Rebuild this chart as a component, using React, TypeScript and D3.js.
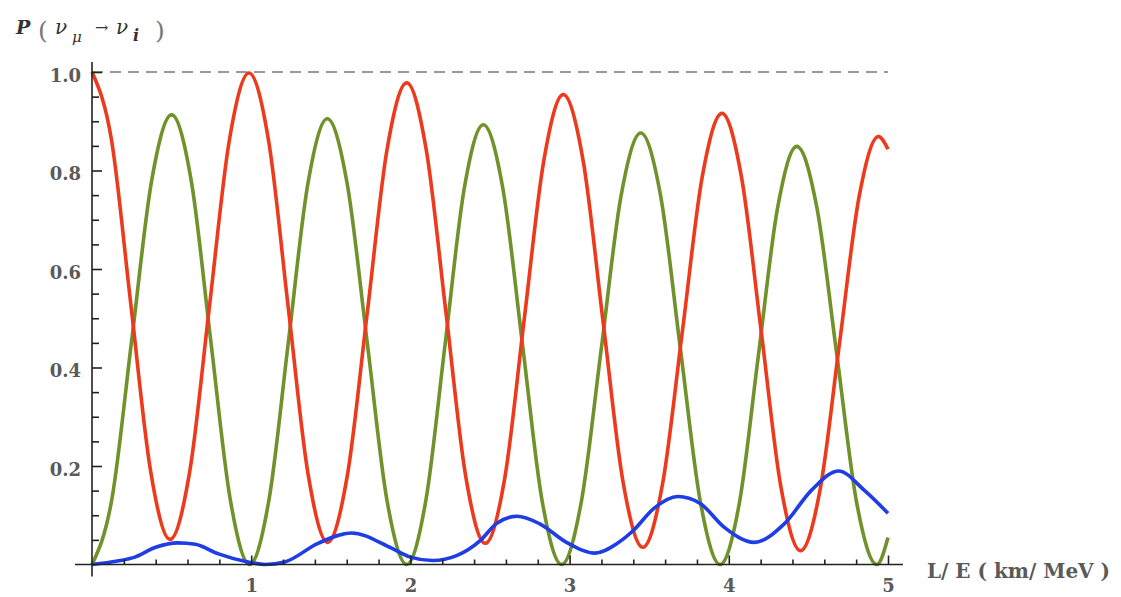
import { useEffect, useRef } from 'react';
import * as d3 from 'd3';

// L/E (km/MeV) sample positions and read-off probabilities
const muMuL = [
  0, 0.123, 0.245, 0.368, 0.49, 0.614, 0.738, 0.862, 0.986, 1.11, 1.233, 1.357, 1.48,
  1.604, 1.729, 1.853, 1.977, 2.1, 2.224, 2.347, 2.47, 2.593, 2.715, 2.838, 2.96, 3.085,
  3.21, 3.335, 3.46, 3.584, 3.709, 3.833, 3.957, 4.08, 4.204, 4.327, 4.45, 4.573, 4.695,
  4.818, 4.94, 5.0,
];
const muMuP = [
  1.0, 0.861, 0.525, 0.19, 0.051, 0.189, 0.525, 0.86, 0.998, 0.859, 0.521, 0.184, 0.045,
  0.181, 0.511, 0.842, 0.978, 0.841, 0.51, 0.18, 0.043, 0.176, 0.498, 0.82, 0.954, 0.82,
  0.494, 0.169, 0.035, 0.164, 0.475, 0.787, 0.916, 0.786, 0.472, 0.158, 0.028, 0.151, 0.448,
  0.746, 0.869, 0.843,
];

const muTauL = [
  0, 0.125, 0.25, 0.375, 0.5, 0.623, 0.745, 0.868, 0.99, 1.112, 1.234, 1.356, 1.478,
  1.603, 1.728, 1.852, 1.977, 2.097, 2.218, 2.338, 2.458, 2.581, 2.704, 2.827, 2.95, 3.074,
  3.199, 3.323, 3.447, 3.572, 3.696, 3.821, 3.945, 4.066, 4.186, 4.307, 4.427, 4.553, 4.679,
  4.804, 4.93, 5.0,
];
const muTauP = [
  0, 0.133, 0.457, 0.78, 0.913, 0.78, 0.457, 0.133, 0, 0.132, 0.453, 0.773, 0.905,
  0.773, 0.453, 0.132, 0, 0.13, 0.447, 0.763, 0.893, 0.763, 0.447, 0.13, 0, 0.128,
  0.438, 0.748, 0.876, 0.748, 0.438, 0.128, 0, 0.124, 0.425, 0.725, 0.849, 0.725, 0.425,
  0.124, 0, 0.055,
];

const muEL = [
  0, 0.16, 0.27, 0.4, 0.54, 0.65, 0.79, 0.98, 1.09, 1.21, 1.42, 1.63, 1.87, 2.0, 2.14,
  2.29, 2.44, 2.54, 2.67, 2.81, 2.98, 3.16, 3.3, 3.4, 3.53, 3.68, 3.82, 3.97, 4.16, 4.35,
  4.52, 4.69, 4.85, 5.0,
];
const muEP = [
  0, 0.007, 0.015, 0.035, 0.044, 0.041, 0.022, 0.005, 0.0, 0.005, 0.043, 0.064, 0.035,
  0.015, 0.008, 0.018, 0.049, 0.083, 0.098, 0.083, 0.045, 0.023, 0.043, 0.069, 0.114,
  0.138, 0.124, 0.076, 0.045, 0.083, 0.151, 0.19, 0.151, 0.104,
];

const xMajor = [1, 2, 3, 4, 5];
const xMinor = d3.range(1, 25).map((i) => i * 0.2).filter((v) => Math.abs(v - Math.round(v)) > 1e-6);
const yMajor = [0.2, 0.4, 0.6, 0.8, 1.0];
const yMinor = d3.range(1, 20).map((i) => i * 0.05).filter((v) => Math.abs(v * 5 - Math.round(v * 5)) > 1e-6);

const series = [
  { name: 'mu-tau', xs: muTauL, ys: muTauP, color: '#6f922a' },
  { name: 'mu-mu', xs: muMuL, ys: muMuP, color: '#ee3a1c' },
  { name: 'mu-e', xs: muEL, ys: muEP, color: '#1f3de4' },
];

const FONT = '"DejaVu Serif", serif';

export default function App() {
  const svgRef = useRef<SVGSVGElement>(null);

  useEffect(() => {
    if (!svgRef.current) return;
    const svg = d3.select(svgRef.current);
    svg.selectAll('*').remove();

    const x = d3.scaleLinear().domain([0, 5]).range([92, 888]);
    const y = d3.scaleLinear().domain([0, 1]).range([564.5, 72]);

    // dashed reference at P = 1
    svg.append('line')
      .attr('x1', x(0)).attr('x2', x(5))
      .attr('y1', y(1)).attr('y2', y(1))
      .attr('stroke', '#9a9a9a')
      .attr('stroke-width', 1.8)
      .attr('stroke-dasharray', '11,7');

    // curves
    const line = d3.line<[number, number]>()
      .x((d) => x(d[0]))
      .y((d) => y(d[1]))
      .curve(d3.curveMonotoneX);

    series.forEach((s) => {
      const pts = s.xs.map((v, i) => [v, s.ys[i]] as [number, number]);
      svg.append('path')
        .datum(pts)
        .attr('fill', 'none')
        .attr('stroke', s.color)
        .attr('stroke-width', 3.6)
        .attr('stroke-linejoin', 'round')
        .attr('d', line);
    });

    // axis lines
    svg.append('line')
      .attr('x1', x(0) - 17).attr('x2', x(5) + 15)
      .attr('y1', y(0)).attr('y2', y(0))
      .attr('stroke', '#222').attr('stroke-width', 1.6);
    svg.append('line')
      .attr('x1', x(0)).attr('x2', x(0))
      .attr('y1', y(1) - 10).attr('y2', y(0) + 12)
      .attr('stroke', '#222').attr('stroke-width', 1.6);

    const style = (g: d3.Selection<SVGGElement, unknown, null, undefined>) => {
      g.select('.domain').remove();
      g.selectAll('.tick line').attr('stroke', '#222').attr('stroke-width', 1.6);
      g.selectAll('text')
        .attr('fill', '#5a5a5a')
        .attr('font-family', FONT)
        .attr('font-weight', 'bold')
        .attr('font-size', '18px');
    };

    // x axis
    const gxMinor = svg.append('g')
      .attr('transform', `translate(0,${y(0)})`)
      .call(d3.axisBottom(x).tickValues(xMinor).tickSize(-5).tickFormat(() => ''));
    style(gxMinor);
    const gx = svg.append('g')
      .attr('transform', `translate(0,${y(0)})`)
      .call(d3.axisBottom(x).tickValues(xMajor).tickSize(-9).tickPadding(15).tickFormat(d3.format('d')));
    style(gx);

    // y axis
    const gyMinor = svg.append('g')
      .attr('transform', `translate(${x(0)},0)`)
      .call(d3.axisLeft(y).tickValues(yMinor).tickSize(-7).tickFormat(() => ''));
    style(gyMinor);
    const gy = svg.append('g')
      .attr('transform', `translate(${x(0)},0)`)
      .call(d3.axisLeft(y).tickValues(yMajor).tickSize(-10).tickPadding(11).tickFormat(d3.format('.1f')));
    style(gy);
    gy.selectAll('text').attr('dy', '0.52em');

    // x axis label
    svg.append('text')
      .attr('x', 927)
      .attr('y', 578)
      .attr('fill', '#5a5a5a')
      .attr('font-family', FONT)
      .attr('font-weight', 'bold')
      .attr('font-size', '20px')
      .attr('xml:space', 'preserve')
      .text('L/ E ( km/ MeV )');

    // y axis title: P ( ν_μ → ν_i )
    const t = svg.append('text')
      .attr('font-family', FONT)
      .attr('fill', '#333');
    t.append('tspan').attr('x', 16).attr('y', 34).attr('font-size', '19px')
      .attr('font-weight', 'bold').attr('font-style', 'italic').text('P');
    t.append('tspan').attr('x', 38).attr('y', 39).attr('font-size', '25px')
      .attr('fill', '#777').text('(');
    t.append('tspan').attr('x', 55).attr('y', 34).attr('font-size', '20px')
      .attr('font-style', 'italic').text('ν');
    t.append('tspan').attr('x', 72).attr('y', 42).attr('font-size', '15px')
      .attr('font-style', 'italic').text('μ');
    t.append('tspan').attr('x', 95).attr('y', 33).attr('font-size', '16px').text('→');
    t.append('tspan').attr('x', 116).attr('y', 34).attr('font-size', '20px')
      .attr('font-style', 'italic').text('ν');
    t.append('tspan').attr('x', 133).attr('y', 41).attr('font-size', '16px')
      .attr('font-weight', 'bold').attr('font-style', 'italic').text('i');
    t.append('tspan').attr('x', 155).attr('y', 39).attr('font-size', '25px')
      .attr('fill', '#777').text(')');
  }, []);

  return (
    <svg
      ref={svgRef}
      width={1121}
      height={597}
      style={{ position: 'absolute', left: 0, top: 0, background: '#fff' }}
    />
  );
}
